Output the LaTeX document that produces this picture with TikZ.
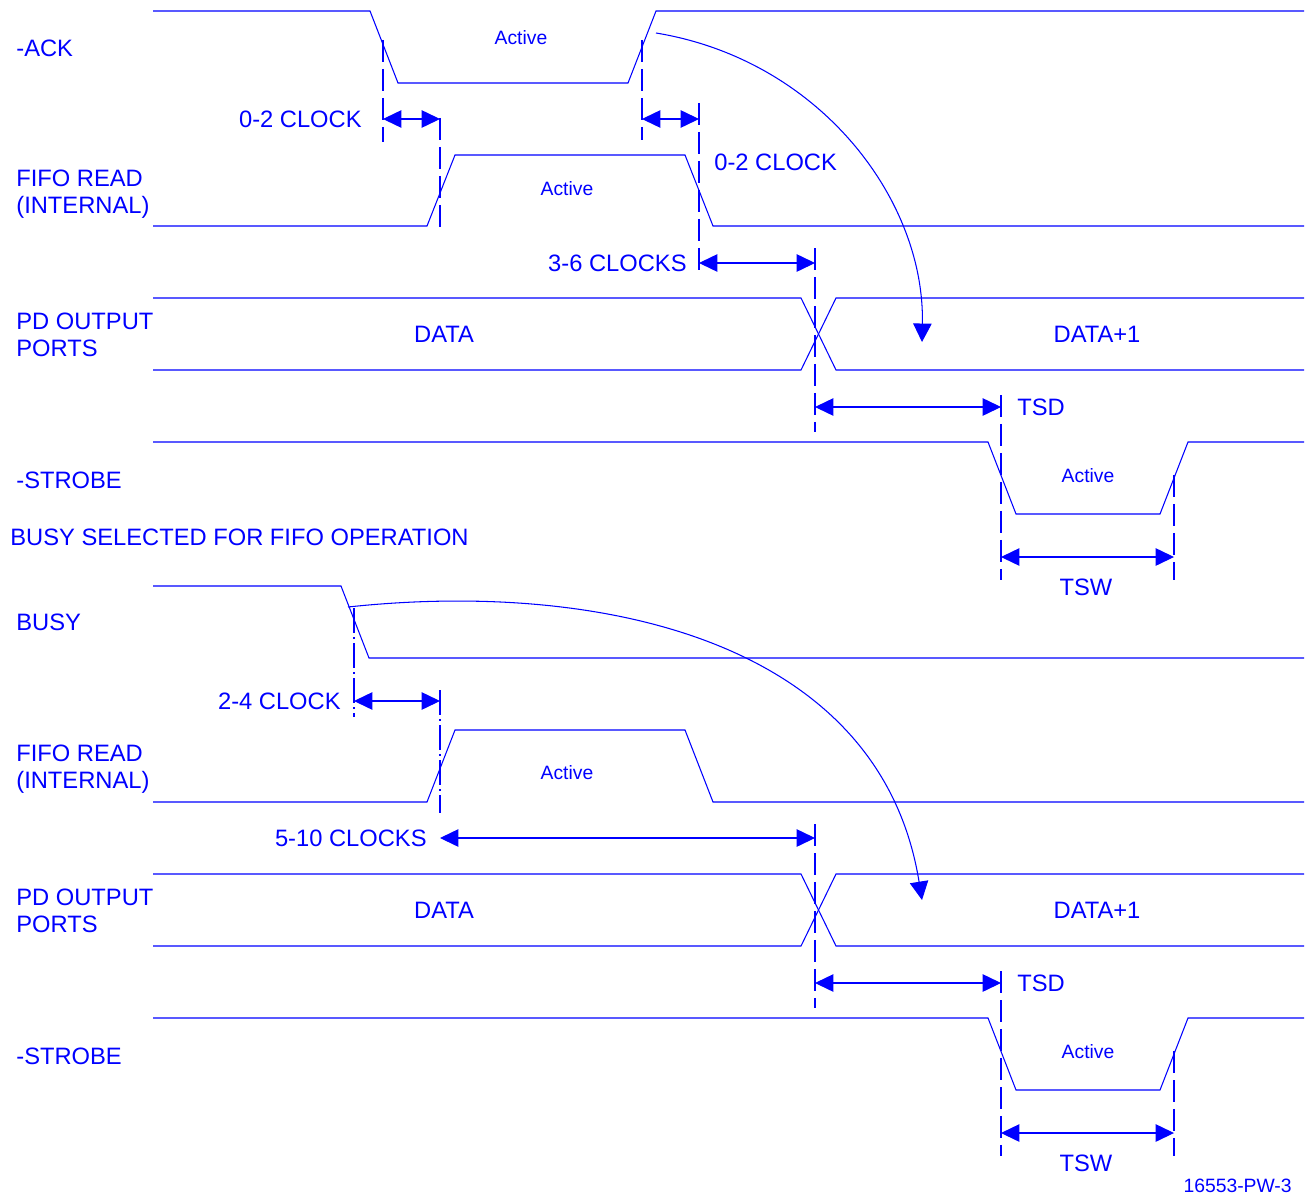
\documentclass[tikz,border=0pt]{standalone}
\usepackage{fontspec}
\setmainfont{Liberation Sans}
\usetikzlibrary{arrows.meta}

\begin{document}
\begin{tikzpicture}[x=0.02cm,y=-0.02cm,
    sig/.style={blue, line width=0.6pt},
    guide/.style={blue, line width=0.6pt, dash pattern=on 12.5pt off 4pt},
    guidedot/.style={blue, line width=0.6pt, dash pattern=on 14pt off 2.5pt on 1pt off 2.5pt},
    dim/.style={blue, line width=0.6pt, {Triangle[length=10.5pt,width=10pt]}-{Triangle[length=10.5pt,width=10pt]}},
    curvearrow/.style={blue, line width=0.6pt, -{Triangle[length=10.5pt,width=10.5pt]}},
    lbl/.style={blue, font=\fontsize{13.5}{15.3}\selectfont, inner sep=0pt, align=left},
    act/.style={blue, font=\fontsize{11}{13}\selectfont, inner sep=0pt}]

    % Fix the page to the reference size
    \useasboundingbox (0,0) rectangle (1307,1196);

    % ---------------- ACK driven part ----------------
    % -ACK
    \draw[sig] (153,11) -- (370,11) -- (398,83) -- (628,83) -- (656,11) -- (1304,11);
    \node[lbl, anchor=west] (ack) at (16,48) {-ACK};
    \node[act] (ackact) at (521,38) {Active};

    % FIFO READ (internal)
    \draw[sig] (153,226) -- (427,226) -- (455,155) -- (685,155) -- (713,226) -- (1304,226);
    \node[lbl, anchor=west] (fifoa) at (16,194.5) {FIFO READ\\(INTERNAL)};
    \node[act] (fifoaact) at (567,189) {Active};

    % Guides
    \draw[guide] (383,40) -- (383,142);
    \draw[guide] (642,40) -- (642,140);
    \draw[guide] (440,118) -- (440,230);
    \draw[guide] (699,103) -- (699,276);

    % 0-2 clock delays
    \coordinate (ackfall) at (383,119);
    \coordinate (fiforise) at (440,119);
    \coordinate (ackrise) at (642,119);
    \coordinate (fifofall) at (699,119);
    \draw[dim] (ackfall) -- (fiforise);
    \draw[dim] (ackrise) -- (fifofall);
    \node[lbl, anchor=east] (clka) at (362,119) {0-2 CLOCK};
    \node[lbl, anchor=west] (clkb) at (714,162) {0-2 CLOCK};

    % 3-6 clocks
    \coordinate (fifoend) at (699,263);
    \coordinate (datachg) at (815,263);
    \draw[dim] (fifoend) -- (datachg);
    \node[lbl, anchor=east] (clkc) at (687,263) {3-6 CLOCKS};

    % -ACK rising edge starts next data
    \draw[curvearrow] (656,33) .. controls (820,60) and (925,200) .. (922,342);

    % ---------------- BUSY driven part ----------------
    \node[lbl, anchor=west] (busysel) at (10,537) {BUSY SELECTED FOR FIFO OPERATION};

    % BUSY
    \draw[sig] (153,586) -- (341,586) -- (369,658) -- (1304,658);
    \node[lbl, anchor=west] (busy) at (16,622) {BUSY};

    % FIFO READ (internal)
    \draw[sig] (153,802) -- (427,802) -- (455,730) -- (685,730) -- (713,802) -- (1304,802);
    \node[lbl, anchor=west] (fifob) at (16,769) {FIFO READ\\(INTERNAL)};
    \node[act] (fifobact) at (567,773) {Active};

    % Guides
    \draw[guidedot] (354,608) -- (354,717);
    \draw[guidedot] (440,690) -- (440,813);

    % 2-4 clock delay
    \coordinate (busyfall) at (354,701);
    \coordinate (fiforiseb) at (440,701);
    \draw[dim] (busyfall) -- (fiforiseb);
    \node[lbl, anchor=east] (clkd) at (341,701) {2-4 CLOCK};

    % 5-10 clocks
    \coordinate (fifostartb) at (440,838);
    \coordinate (datachgb) at (815,838);
    \draw[dim] (fifostartb) -- (datachgb);
    \node[lbl, anchor=east] (clke) at (427,838) {5-10 CLOCKS};

    % BUSY falling edge starts next data
    \draw[curvearrow] (348,607) .. controls (600,580) and (880,640) .. (922,900);

    % ---------------- common part: PD ports and -STROBE ----------------
    \foreach \dy in {0,576} {
        % PD OUTPUT PORTS
        \draw[sig] (153,298+\dy) -- (801,298+\dy) -- (836,370+\dy) -- (1304,370+\dy);
        \draw[sig] (153,370+\dy) -- (801,370+\dy) -- (836,298+\dy) -- (1304,298+\dy);
        \node[lbl, anchor=west] (pd\dy) at (16,334.5+\dy) {PD OUTPUT\\PORTS};
        \node[lbl] (data\dy) at (444,334+\dy) {DATA};
        \node[lbl] (datanext\dy) at (1097,334+\dy) {DATA+1};

        % -STROBE
        \draw[sig] (153,442+\dy) -- (988,442+\dy) -- (1016,514+\dy) -- (1160,514+\dy) -- (1188,442+\dy) -- (1304,442+\dy);
        \node[lbl, anchor=west] (strobe\dy) at (16,480+\dy) {-STROBE};
        \node[act] (strobeact\dy) at (1088,476+\dy) {Active};

        % Guides
        \draw[guide] (815,248+\dy) -- (815,432+\dy);
        \draw[guide] (1001,395+\dy) -- (1001,580+\dy);
        \draw[guide] (1174,475+\dy) -- (1174,580+\dy);

        % TSD and TSW
        \coordinate (tsda\dy) at (815,407+\dy);
        \coordinate (tsdb\dy) at (1001,407+\dy);
        \draw[dim] (tsda\dy) -- (tsdb\dy);
        \node[lbl, anchor=west] (tsd\dy) at (1017,407+\dy) {TSD};
        \coordinate (tswa\dy) at (1001,557+\dy);
        \coordinate (tswb\dy) at (1174,557+\dy);
        \draw[dim] (tswa\dy) -- (tswb\dy);
        \node[lbl] (tsw\dy) at (1086,587+\dy) {TSW};
    }

    % Figure number
    \node[act, anchor=east] (fig) at (1292,1186) {16553-PW-3};
\end{tikzpicture}
\end{document}
